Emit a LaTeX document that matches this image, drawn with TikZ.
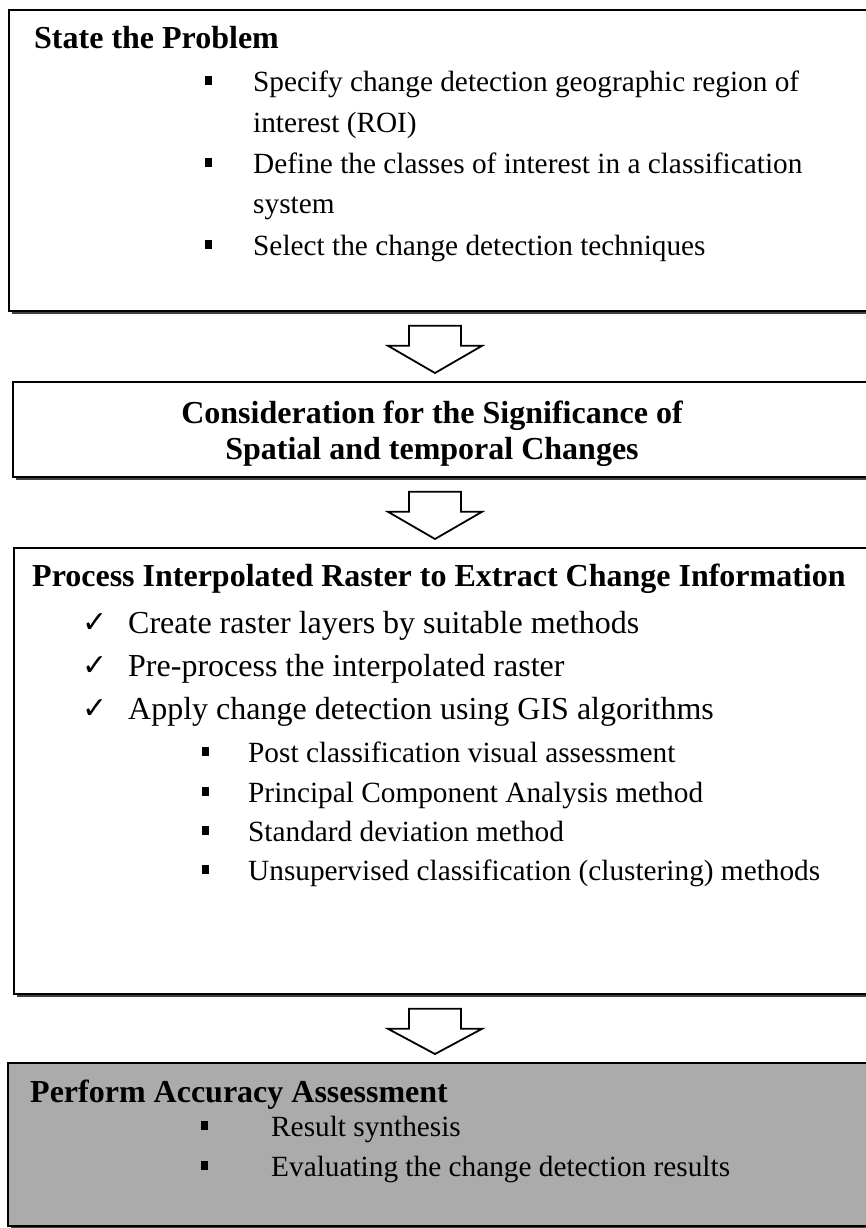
\documentclass[tikz,border=0pt]{standalone}
\usepackage{fontspec}
\setmainfont{Liberation Serif}
\newfontfamily\symfont{DejaVu Sans}
\usetikzlibrary{calc,shadows}

\tikzset{
  panel/.style={draw=black, line width=1.8pt, fill=white, anchor=north west,
    inner sep=0pt, minimum width=880pt,
    general shadow={shadow xshift=3pt, shadow yshift=-3pt, fill=black!75}},
  greypanel/.style={panel, fill=black!33},
  heading/.style={font=\fontsize{32}{32}\selectfont\bfseries, inner sep=0pt, anchor=base west},
  centred/.style={heading, anchor=base},
  entry/.style={font=\fontsize{29.3}{29.3}\selectfont, inner sep=0pt, anchor=base west},
  bigentry/.style={entry, font=\fontsize{32}{32}\selectfont},
  sqbullet/.style={fill=black, inner sep=0pt, minimum width=7pt, minimum height=9pt},
  tick/.style={font=\symfont\fontsize{30}{30}\selectfont, inner sep=0pt, anchor=base west},
  hollow/.style={draw=black, line width=1.8pt, fill=white, line join=miter}
}

% hollow block arrow from the bottom of one panel to the top of the next
\newcommand\flowarrow[2]{%
  \draw[hollow] let \p1=(ax |- #1.south), \p2=(ax |- #2.north) in
    (\x1-26pt,\y1-14pt) -- (\x1+26pt,\y1-14pt) -- (\x1+26pt,\y1-34pt)
    -- (\x1+47pt,\y1-34pt) -- (\x1,\y2+8pt) -- (\x1-47pt,\y1-34pt)
    -- (\x1-26pt,\y1-34pt) -- cycle;}

\begin{document}
\begin{tikzpicture}[x=1pt, y=-1pt]
\useasboundingbox (0,0) rectangle (865,1228);
\fill[white] (0,0) rectangle (865,1228);

% panels
\node[panel, minimum height=301pt] (b1) at (8,9) {};
\node[panel, minimum height=95pt] (b2) at (12,381) {};
\node[panel, minimum height=446pt] (b3) at (13,547) {};
\node[greypanel, minimum height=163pt] (b4) at (7,1062) {};

\coordinate (ax) at (435,0);

% panel 1
\node[heading] (h1) at (34,49) {State the Problem};
\node[sqbullet] (q11) at (208,81) {};
\node[entry] (e11) at (253,92) {Specify change detection geographic region of};
\node[entry] (e12) at (253,132) {interest (ROI)};
\node[sqbullet] (q12) at (208,162) {};
\node[entry] (e13) at (253,173) {Define the classes of interest in a classification};
\node[entry] (e14) at (253,213) {system};
\node[sqbullet] (q13) at (208,244) {};
\node[entry] (e15) at (253,255) {Select the change detection techniques};

% panel 2
\node[centred] (h2a) at (432,423) {Consideration for the Significance of};
\node[centred] (h2b) at (432,459) {Spatial and temporal Changes};

% panel 3
\node[heading] (h3) at (32,586) {Process Interpolated Raster to Extract Change Information};
\node[tick] (k1) at (82,632) {✓};
\node[bigentry] (c1) at (128,633) {Create raster layers by suitable methods};
\node[tick] (k2) at (82,675) {✓};
\node[bigentry] (c2) at (128,676) {Pre-process the interpolated raster};
\node[tick] (k3) at (82,718) {✓};
\node[bigentry] (c3) at (128,719) {Apply change detection using GIS algorithms};
\node[sqbullet] (q31) at (205,751) {};
\node[entry] (s1) at (248,762) {Post classification visual assessment};
\node[sqbullet] (q32) at (205,791) {};
\node[entry] (s2) at (248,802) {Principal Component Analysis method};
\node[sqbullet] (q33) at (205,830) {};
\node[entry] (s3) at (248,841) {Standard deviation method};
\node[sqbullet] (q34) at (205,869) {};
\node[entry] (s4) at (248,880) {Unsupervised classification (clustering) methods};

% panel 4
\node[heading] (h4) at (30,1102) {Perform Accuracy Assessment};
\node[sqbullet] (q41) at (204,1125) {};
\node[entry] (r1) at (271,1136) {Result synthesis};
\node[sqbullet] (q42) at (204,1165) {};
\node[entry] (r2) at (271,1176) {Evaluating the change detection results};

% arrows between panels
\flowarrow{b1}{b2}
\flowarrow{b2}{b3}
\flowarrow{b3}{b4}
\end{tikzpicture}
\end{document}
